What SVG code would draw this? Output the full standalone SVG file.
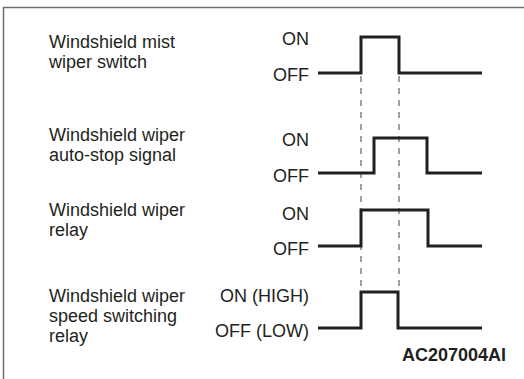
<svg xmlns="http://www.w3.org/2000/svg" width="524" height="379" viewBox="0 0 524 379">
<style>
.lbl{font-family:"Liberation Sans",Arial,sans-serif;font-size:18px;fill:#231f20}
.st{font-family:"Liberation Sans",Arial,sans-serif;font-size:18px;fill:#231f20;text-anchor:end}
.wave{fill:none;stroke:#231f20;stroke-width:3;stroke-linejoin:miter;stroke-linecap:butt}
.dash{fill:none;stroke:#6d6e70;stroke-width:1.3;stroke-dasharray:6 6}
.id{font-family:"Liberation Sans",Arial,sans-serif;font-size:18px;font-weight:bold;fill:#231f20;text-anchor:end}
</style>
<rect width="524" height="379" fill="#fff"/>
<path d="M3.5,379 V7.5 H524" fill="none" stroke="#6d6e70" stroke-width="1.5"/>
<g id="connectors">
<path class="dash" d="M361,76 V291"/>
<path class="dash" d="M399,76 V291"/>
</g>
<g id="mist-switch">
<text class="lbl" x="49" y="48">Windshield mist</text>
<text class="lbl" x="49" y="68">wiper switch</text>
<text class="st" x="309" y="45">ON</text>
<text class="st" x="309" y="81">OFF</text>
<path class="wave" d="M318,73 H361 V37 H399 V73 H482"/>
</g>
<g id="auto-stop">
<text class="lbl" x="49" y="141">Windshield wiper</text>
<text class="lbl" x="49" y="161">auto-stop signal</text>
<text class="st" x="309" y="146">ON</text>
<text class="st" x="309" y="182">OFF</text>
<path class="wave" d="M318,173 H374 V138 H427 V173 H482"/>
</g>
<g id="wiper-relay">
<text class="lbl" x="49" y="216">Windshield wiper</text>
<text class="lbl" x="49" y="236">relay</text>
<text class="st" x="309" y="220">ON</text>
<text class="st" x="309" y="255">OFF</text>
<path class="wave" d="M318,246 H361 V210 H428 V246 H482"/>
</g>
<g id="speed-relay">
<text class="lbl" x="49" y="302">Windshield wiper</text>
<text class="lbl" x="49" y="322">speed switching</text>
<text class="lbl" x="49" y="342">relay</text>
<text class="st" x="309" y="302">ON (HIGH)</text>
<text class="st" x="309" y="337">OFF (LOW)</text>
<path class="wave" d="M318,328 H361 V292 H398 V328 H482"/>
</g>
<text class="id" x="506" y="361">AC207004AI</text>
</svg>
